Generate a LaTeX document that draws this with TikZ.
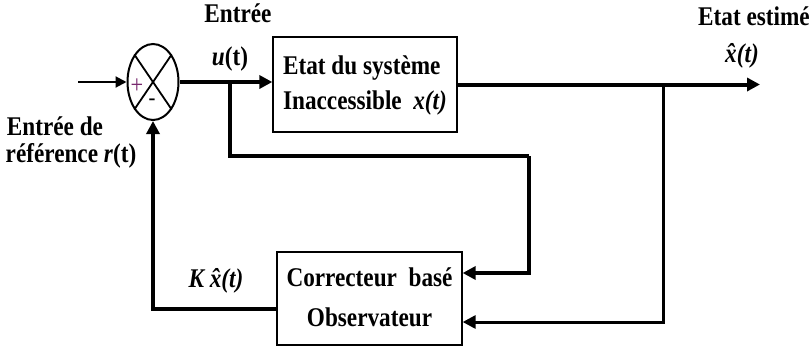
\documentclass[tikz,border=0pt]{standalone}
\usepackage{fontspec}
\setmainfont{Liberation Serif}[FakeStretch=0.86]
\usetikzlibrary{arrows.meta,shapes.geometric}
\definecolor{pluscol}{RGB}{120,40,110}
\begin{document}
\begin{tikzpicture}[x=1pt,y=-1pt,
  lbl/.style={inner sep=0pt, anchor=base, font=\bfseries\fontsize{27}{32}\selectfont},
  blk/.style={draw, line width=1.3pt, minimum width=184pt, minimum height=95pt, inner sep=0pt,
    font=\bfseries\fontsize{27}{35}\selectfont},
  wire/.style={line width=4pt},
  arr/.style={wire, -{Triangle[length=13pt,width=13pt]}},
  thinarr/.style={line width=2pt, -{Triangle[length=11pt,width=11pt]}}]
\useasboundingbox (0,0) rectangle (810,349);
% blocks
\node[draw, ellipse, line width=2pt, minimum width=51pt, minimum height=76pt, inner sep=0pt] (sum) at (153,82) {};
\draw[line width=1.8pt] (sum.north west) -- (sum.south east) (sum.north east) -- (sum.south west);
\node[text=pluscol, inner sep=0pt, font=\fontsize{26}{26}\selectfont] (plus) at (137,86) {+};
\node[inner sep=0pt, font=\fontsize{24}{24}\selectfont] (minus) at (152,102) {-};
\node[blk] (sys) at (365,84.5) {\begin{tabular}{@{}l@{}}Etat du système\\Inaccessible\ \ \textit{x(t)}\end{tabular}};
\node[blk, minimum width=185pt, minimum height=93pt, font=\bfseries\fontsize{27}{40}\selectfont] (obs) at (369.5,298.5) {\begin{tabular}{@{}c@{}}Correcteur\ \ basé\\Observateur\end{tabular}};
% coordinates
\coordinate (in) at (78,82);
\coordinate (bu) at (230,82);
\coordinate (bc) at (529,156);
\coordinate (out) at (760,84.5);
\coordinate (bx) at (663,84.5);
% connectors
\draw[thinarr] (in) -- (sum.west);
\draw[arr] (sum.east) -- (sum.east -| sys.west);
\draw[wire] (bu) |- (bc);
\draw[arr] (bc) |- ([yshift=25.5pt]obs.east);
\draw[arr] (sys.east) -- (out);
\draw[line width=3pt, -{Triangle[length=13pt,width=13pt]}] (bx) |- ([yshift=-23.5pt]obs.east);
\draw[arr] ([yshift=-10.5pt]obs.west) -| (sum.south);
% labels
\node[lbl] (lin) at (238,22) {Entrée};
\node[lbl] (lu) at (230,65) {\textit{u}(t)};
\node[lbl] (lref1) at (55,135) {Entrée de};
\node[lbl] (lref2) at (71,162) {référence \textit{r}(t)};
\node[lbl] (lest) at (754,25) {Etat estimé};
\node[lbl] (lxh) at (742,62) {\textit{\^{x}(t)}};
\node[lbl] (lk) at (216,287) {\textit{K \^{x}(t)}};
\end{tikzpicture}
\end{document}
